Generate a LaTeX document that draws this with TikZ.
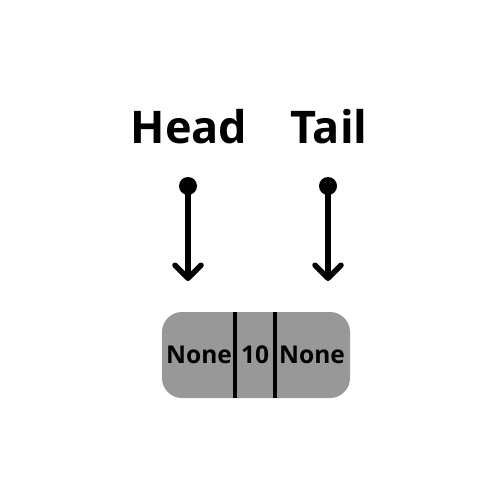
\documentclass[tikz,border=0pt]{standalone}
\usepackage{fontspec}
\setmainfont{Open Sans}
\usetikzlibrary{arrows.meta}
\definecolor{cellgray}{RGB}{152,152,152}
\tikzset{
  label text/.style={font=\fontsize{45}{45}\selectfont\bfseries, anchor=base, inner sep=0pt},
  cell text/.style={font=\fontsize{24.5}{24.5}\selectfont\bfseries, anchor=base, inner sep=0pt},
  pointer dot/.style={circle, fill=black, minimum size=18pt, inner sep=0pt},
  pointer/.style={line width=5.5pt, -{Straight Barb[length=13pt,width=26pt,line cap=round,line join=round]}},
  node box/.style={rectangle, rounded corners=20pt, fill=cellgray, minimum width=188pt, minimum height=86pt, inner sep=0pt},
  divider/.style={line width=3.5pt}
}
\begin{document}
\begin{tikzpicture}[x=1pt,y=-1pt]
  \useasboundingbox (0,0) rectangle (500,500);
  % pointer labels
  \node[label text] (head) at (189,143) {Head};
  \node[label text] (tail) at (329,143) {Tail};
  % pointer origins and targets
  \node[pointer dot] (hdot) at (188,186) {};
  \node[pointer dot] (tdot) at (328,186) {};
  \coordinate (htip) at (188,281);
  \coordinate (ttip) at (328,281);
  \draw[pointer] (hdot.center) -- (htip);
  \draw[pointer] (tdot.center) -- (ttip);
  % list node: prev | value | next
  \node[node box] (box) at (256,355) {};
  \coordinate (d1top) at (235,312);
  \coordinate (d1bot) at (235,398);
  \coordinate (d2top) at (275,312);
  \coordinate (d2bot) at (275,398);
  \draw[divider] (d1top) -- (d1bot);
  \draw[divider] (d2top) -- (d2bot);
  \node[cell text] (prev) at (199,363) {None};
  \node[cell text] (val) at (255,363) {10};
  \node[cell text] (next) at (312,363) {None};
\end{tikzpicture}
\end{document}
